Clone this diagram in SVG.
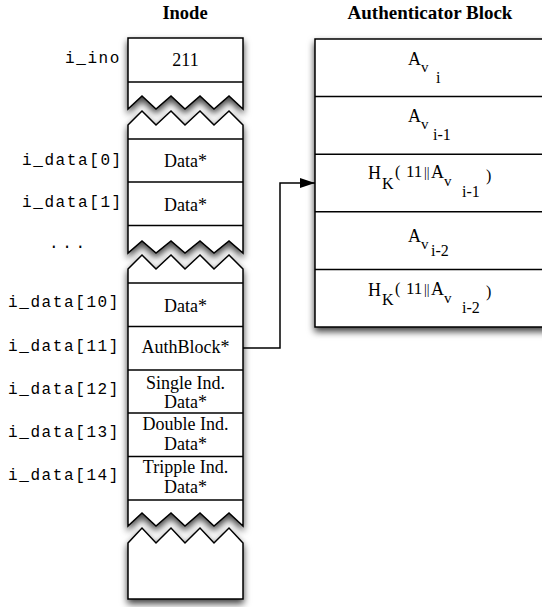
<svg xmlns="http://www.w3.org/2000/svg" width="542" height="607" viewBox="0 0 542 607">
<defs>
<filter id="sh" x="-20%" y="-20%" width="140%" height="140%">
<feDropShadow dx="0" dy="4" stdDeviation="3.5" flood-color="#000" flood-opacity="0.75"/>
</filter>
<marker id="arr" markerUnits="userSpaceOnUse" markerWidth="15" markerHeight="10" refX="15" refY="5" orient="auto">
<path d="M0,0 L15,5 L0,10 Z" fill="#000"/>
</marker>
<style>
.box{fill:#fff;stroke:#000;stroke-width:1.5;filter:url(#sh)}
.div{stroke:#000;stroke-width:1.5;fill:none}
.lbl{font-family:"Liberation Mono",monospace;font-size:16px;letter-spacing:1.6px;fill:#000}
.cell{font-family:"Liberation Serif",serif;font-size:18px;fill:#000;text-anchor:middle}
.ttl{font-family:"Liberation Serif",serif;font-weight:bold;fill:#000;text-anchor:middle}
.m{font-family:"Liberation Serif",serif;fill:#000}
.conn{stroke:#000;stroke-width:1.5;fill:none}
</style>
</defs>
<rect width="542" height="607" fill="#fff"/>
<text class="ttl" x="185" y="19" font-size="18.5">Inode</text>
<text class="ttl" x="430" y="19" font-size="19">Authenticator Block</text>

<g id="inode">
<path class="box" d="M128,38 H243 V109 L229,96 L214,109 L200,96 L185,109 L171,96 L156,109 L142,96 L128,109 Z"/>
<path class="box" d="M128,125 L142,111 L156,125 L171,111 L185,125 L200,111 L214,125 L229,111 L243,125 V253 L229,241 L214,253 L200,241 L185,253 L171,241 L156,253 L142,241 L128,253 Z"/>
<path class="box" d="M128,269 L142,255 L156,269 L171,255 L185,269 L200,255 L214,269 L229,255 L243,269 V526 L229,513 L214,526 L200,513 L185,526 L171,513 L156,526 L142,513 L128,526 Z"/>
<path class="box" d="M128,543 L142,528 L156,543 L171,528 L185,543 L200,528 L214,543 L229,528 L243,543 V599 H128 Z"/>
</g>

<g id="i_ino">
<line class="div" x1="128" y1="82" x2="243" y2="82"/>
<text class="lbl" x="65" y="63">i_ino</text>
<text class="cell" x="185.5" y="66">211</text>
</g>
<g id="i_data0">
<line class="div" x1="128" y1="139" x2="243" y2="139"/>
<text class="lbl" x="22" y="165">i_data[0]</text>
<text class="cell" x="185.5" y="167">Data*</text>
</g>
<g id="i_data1">
<line class="div" x1="128" y1="182" x2="243" y2="182"/>
<line class="div" x1="128" y1="225.5" x2="243" y2="225.5"/>
<text class="lbl" x="22" y="207">i_data[1]</text>
<text class="cell" x="185.5" y="211">Data*</text>
</g>
<g id="ellipsis">
<text class="lbl" x="49" y="248" style="letter-spacing:3.7px">...</text>
</g>
<g id="i_data10">
<line class="div" x1="128" y1="283" x2="243" y2="283"/>
<text class="lbl" x="8" y="307">i_data[10]</text>
<text class="cell" x="185.5" y="312">Data*</text>
</g>
<g id="i_data11">
<line class="div" x1="128" y1="326.5" x2="243" y2="326.5"/>
<text class="lbl" x="8" y="351">i_data[11]</text>
<text class="cell" x="185.5" y="353">AuthBlock*</text>
</g>
<g id="i_data12">
<line class="div" x1="128" y1="370" x2="243" y2="370"/>
<text class="lbl" x="8" y="394">i_data[12]</text>
<text class="cell" x="185.5" y="389">Single Ind.</text>
<text class="cell" x="185.5" y="408">Data*</text>
</g>
<g id="i_data13">
<line class="div" x1="128" y1="413" x2="243" y2="413"/>
<text class="lbl" x="8" y="437">i_data[13]</text>
<text class="cell" x="185.5" y="430">Double Ind.</text>
<text class="cell" x="185.5" y="450">Data*</text>
</g>
<g id="i_data14">
<line class="div" x1="128" y1="456.5" x2="243" y2="456.5"/>
<line class="div" x1="128" y1="500" x2="243" y2="500"/>
<text class="lbl" x="8" y="480">i_data[14]</text>
<text class="cell" x="185.5" y="473">Tripple Ind.</text>
<text class="cell" x="185.5" y="493">Data*</text>
</g>

<g id="authblock">
<rect class="box" x="315" y="39" width="240" height="288"/>
</g>
<g id="av_i">
<text class="m" x="408" y="65" font-size="18">A</text>
<text class="m" x="421" y="72" font-size="15">v</text>
<text class="m" x="436" y="83" font-size="16">i</text>
</g>
<g id="av_i1">
<line class="div" x1="315" y1="96.6" x2="555" y2="96.6"/>
<text class="m" x="408" y="122" font-size="18">A</text>
<text class="m" x="421" y="129" font-size="15">v</text>
<text class="m" x="433" y="140" font-size="16">i-1</text>
</g>
<g id="hk_i1">
<line class="div" x1="315" y1="154.2" x2="555" y2="154.2"/>
<text class="m" x="368" y="179" font-size="18">H</text>
<text class="m" x="382" y="189" font-size="16">K</text>
<text class="m" x="395" y="177" font-size="16">(</text>
<text class="m" x="406" y="177" font-size="17">11</text>
<text class="m" x="424" y="177" font-size="14">||</text>
<text class="m" x="431" y="178" font-size="18">A</text>
<text class="m" x="444" y="186" font-size="15">v</text>
<text class="m" x="462" y="197" font-size="16">i-1</text>
<text class="m" x="486" y="181" font-size="16">)</text>
</g>
<g id="av_i2">
<line class="div" x1="315" y1="211.8" x2="555" y2="211.8"/>
<text class="m" x="408" y="242" font-size="18">A</text>
<text class="m" x="421" y="249" font-size="15">v</text>
<text class="m" x="431" y="256" font-size="16">i-2</text>
</g>
<g id="hk_i2">
<line class="div" x1="315" y1="269.4" x2="555" y2="269.4"/>
<text class="m" x="368" y="296" font-size="18">H</text>
<text class="m" x="382" y="305" font-size="16">K</text>
<text class="m" x="395" y="294" font-size="16">(</text>
<text class="m" x="406" y="294" font-size="17">11</text>
<text class="m" x="424" y="294" font-size="14">||</text>
<text class="m" x="431" y="295" font-size="18">A</text>
<text class="m" x="444" y="303" font-size="15">v</text>
<text class="m" x="462" y="313" font-size="16">i-2</text>
<text class="m" x="486" y="297" font-size="16">)</text>
</g>

<g id="connectors">
<polyline class="conn" points="243,348 280,348 280,183 315,183" marker-end="url(#arr)"/>
</g>
</svg>
